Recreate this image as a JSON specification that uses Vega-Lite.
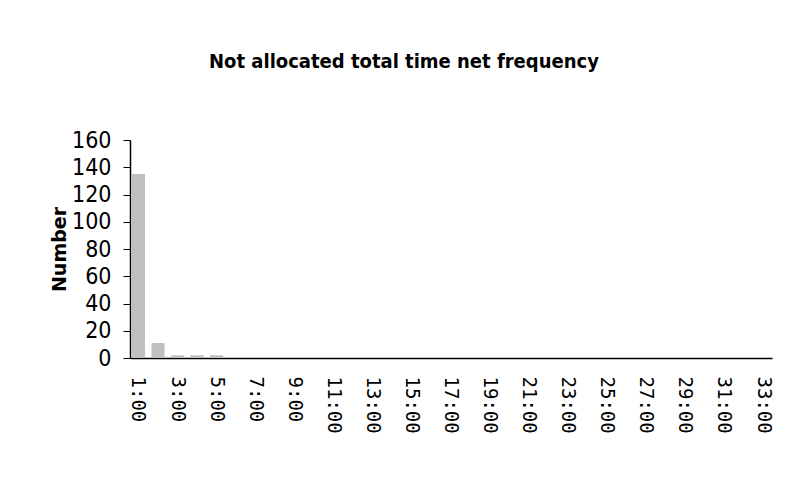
{
  "$schema": "https://vega.github.io/schema/vega-lite/v6.json",
  "autosize": "none",
  "width": 642,
  "height": 218,
  "padding": {"left": 130, "top": 140, "right": 14, "bottom": 130},
  "background": "white",
  "title": {
    "text": "Not allocated total time net frequency",
    "font": "DejaVu Sans Condensed",
    "fontSize": 20,
    "fontWeight": "bold",
    "color": "#000000",
    "anchor": "middle",
    "baseline": "alphabetic",
    "offset": 41,
    "dx": -47
  },
  "data": {
    "values": [
      {"time": "1:00", "count": 135},
      {"time": "2:00", "count": 11},
      {"time": "3:00", "count": 2},
      {"time": "4:00", "count": 2},
      {"time": "5:00", "count": 2},
      {"time": "6:00", "count": 0},
      {"time": "7:00", "count": 0},
      {"time": "8:00", "count": 0},
      {"time": "9:00", "count": 0},
      {"time": "10:00", "count": 0},
      {"time": "11:00", "count": 0},
      {"time": "12:00", "count": 0},
      {"time": "13:00", "count": 0},
      {"time": "14:00", "count": 0},
      {"time": "15:00", "count": 0},
      {"time": "16:00", "count": 0},
      {"time": "17:00", "count": 0},
      {"time": "18:00", "count": 0},
      {"time": "19:00", "count": 0},
      {"time": "20:00", "count": 0},
      {"time": "21:00", "count": 0},
      {"time": "22:00", "count": 0},
      {"time": "23:00", "count": 0},
      {"time": "24:00", "count": 0},
      {"time": "25:00", "count": 0},
      {"time": "26:00", "count": 0},
      {"time": "27:00", "count": 0},
      {"time": "28:00", "count": 0},
      {"time": "29:00", "count": 0},
      {"time": "30:00", "count": 0},
      {"time": "31:00", "count": 0},
      {"time": "32:00", "count": 0},
      {"time": "33:00", "count": 0}
    ]
  },
  "mark": {"type": "bar", "color": "#c0c0c0"},
  "encoding": {
    "x": {
      "field": "time",
      "type": "ordinal",
      "sort": null,
      "scale": {"paddingInner": 0.33, "paddingOuter": 0.1},
      "axis": {
        "title": null,
        "values": ["1:00","3:00","5:00","7:00","9:00","11:00","13:00","15:00","17:00","19:00","21:00","23:00","25:00","27:00","29:00","31:00","33:00"],
        "labelAngle": 90,
        "labelAlign": "left",
        "labelBaseline": "middle",
        "labelFont": "DejaVu Sans Mono",
        "labelFontSize": 19,
        "labelColor": "#000000",
        "labelPadding": 18,
        "ticks": false,
        "grid": false,
        "domainColor": "#000000",
        "domainWidth": 1.5
      }
    },
    "y": {
      "field": "count",
      "type": "quantitative",
      "scale": {"domain": [0, 160]},
      "axis": {
        "title": "Number",
        "titleFont": "DejaVu Sans",
        "titleFontSize": 19,
        "titleFontWeight": "bold",
        "titleColor": "#000000",
        "titlePadding": 2,
        "values": [0, 20, 40, 60, 80, 100, 120, 140, 160],
        "labelFont": "DejaVu Sans Condensed",
        "labelFontSize": 23,
        "labelColor": "#000000",
        "labelPadding": 12,
        "tickSize": 7,
        "tickColor": "#000000",
        "grid": false,
        "domainColor": "#000000",
        "domainWidth": 1.5
      }
    }
  },
  "config": {"view": {"stroke": null}}
}
